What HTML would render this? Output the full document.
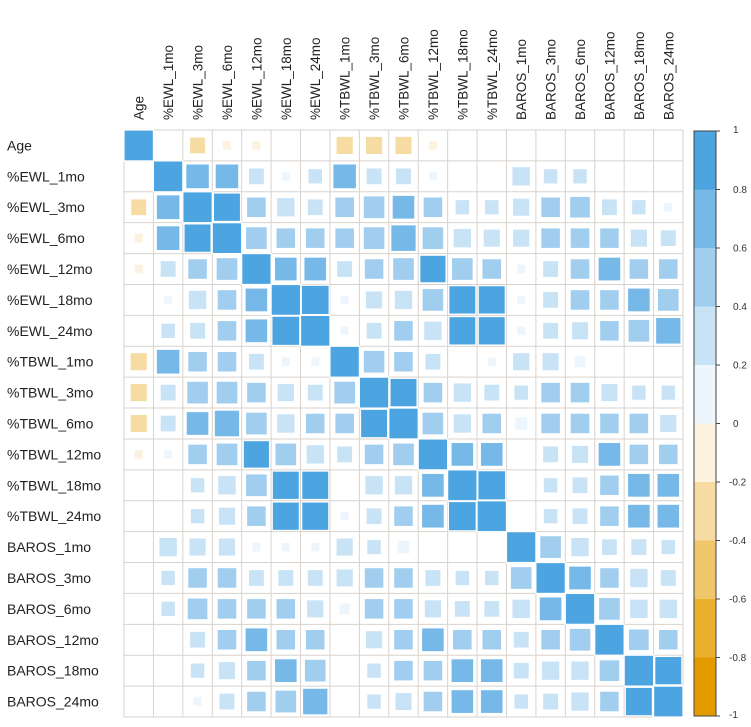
<!DOCTYPE html>
<html><head><meta charset="utf-8"><style>
body{margin:0;background:#fff;}
svg{display:block;font-family:"Liberation Sans",sans-serif;}
</style></head><body>
<svg id="chart" width="751" height="727"></svg>
<script>
const labels=["Age","%EWL_1mo","%EWL_3mo","%EWL_6mo","%EWL_12mo","%EWL_18mo","%EWL_24mo","%TBWL_1mo","%TBWL_3mo","%TBWL_6mo","%TBWL_12mo","%TBWL_18mo","%TBWL_24mo","BAROS_1mo","BAROS_3mo","BAROS_6mo","BAROS_12mo","BAROS_18mo","BAROS_24mo"];
// upper-triangle correlations, row i gives values for columns i+1..18
const upper=[
[0,-0.3,-0.1,-0.1,0,0,-0.35,-0.35,-0.35,-0.1,0,0,0,0,0,0,0,0],
[0.65,0.65,0.3,0.1,0.25,0.65,0.3,0.3,0.1,0,0,0.4,0.25,0.25,0,0,0],
[0.85,0.45,0.4,0.3,0.45,0.55,0.6,0.45,0.25,0.25,0.35,0.45,0.5,0.3,0.25,0.1],
[0.55,0.45,0.45,0.45,0.55,0.75,0.55,0.4,0.35,0.35,0.45,0.45,0.45,0.35,0.3],
[0.6,0.6,0.3,0.45,0.55,0.8,0.55,0.45,0.1,0.3,0.45,0.6,0.45,0.45],
[0.9,0.1,0.35,0.4,0.55,0.85,0.85,0.1,0.3,0.45,0.45,0.6,0.55],
[0.1,0.3,0.45,0.4,0.85,0.85,0.1,0.3,0.35,0.45,0.55,0.75],
[0.55,0.45,0.3,0,0.1,0.35,0.35,0.15,0,0,0],
[0.85,0.45,0.4,0.3,0.25,0.45,0.45,0.35,0.25,0.25],
[0.55,0.4,0.45,0.2,0.45,0.45,0.45,0.45,0.35],
[0.6,0.6,0,0.3,0.35,0.6,0.45,0.45],
[0.9,0,0.25,0.3,0.45,0.6,0.6],
[0,0.25,0.3,0.45,0.6,0.6],
[0.55,0.4,0.3,0.3,0.25],
[0.6,0.45,0.4,0.3],
[0.55,0.4,0.4],
[0.5,0.45],
[0.85],
[]
];
const legendTicks=[1,0.8,0.6,0.4,0.2,0,-0.2,-0.4,-0.6,-0.8,-1];
const binColors=["#E39B00","#EAB02E","#F0C66A","#F6DCA2","#FCF2DF","#EDF6FC","#C9E3F6","#A1CEEF","#76B8E8","#4CA5E1"];

const svg=document.getElementById('chart');
const NS="http://www.w3.org/2000/svg";
const n=labels.length;
const gx0=124,gx1=683,gy0=130,gy1=717;
const cw=(gx1-gx0)/n,ch=(gy1-gy0)/n;
const xOf=j=>gx0+j*cw, yOf=i=>gy0+i*ch;
function colorFor(v){let b=Math.floor((v+1)/0.2);if(b>9)b=9;if(b<0)b=0;return binColors[b];}
function mk(tag,attrs){const e=document.createElementNS(NS,tag);for(const k in attrs)e.setAttribute(k,attrs[k]);svg.appendChild(e);return e;}
function val(i,j){if(i===j)return 1;if(i<j)return upper[i][j-i-1];return upper[j][i-j-1];}

for(let k=0;k<=n;k++){
  const v=mk('line',{x1:xOf(k),y1:gy0,x2:xOf(k),y2:gy1,stroke:"#d9d2cc","stroke-width":1});
  
  
  const h=mk('line',{x1:gx0,y1:yOf(k),x2:gx1,y2:yOf(k),stroke:"#d9d2cc","stroke-width":1});
  
  
}
for(let i=0;i<n;i++){for(let j=0;j<n;j++){
  const v=val(i,j);if(Math.abs(v)<0.02)continue;
  const s=Math.sqrt(Math.abs(v));
  const w=cw*s,h=ch*s;
  const cx=xOf(j)+cw/2,cy=yOf(i)+ch/2;
  const r=mk('rect',{x:cx-w/2,y:cy-h/2,width:w,height:h,fill:colorFor(v),stroke:"#fff","stroke-width":1.2});
  
  
}}
labels.forEach((l,i)=>{
  const t=mk('text',{x:7,y:yOf(i)+ch/2+5,"font-size":14,fill:"#222"});
  t.textContent=l;
  
  
});
labels.forEach((l,j)=>{
  const cx=xOf(j)+cw/2+5;
  const t=mk('text',{x:0,y:0,"font-size":13.5,fill:"#222",transform:`translate(${cx},120) rotate(-90)`});
  t.textContent=l;
  
  
});
const lx0=694,lx1=716,ly0=131,ly1=716;
const lyOf=v=>ly0+(1-v)/2*(ly1-ly0);
binColors.forEach((c,b)=>{
  const vlo=-1+b*0.2,vhi=vlo+0.2;
  const r=mk('rect',{x:lx0,y:lyOf(vhi),width:lx1-lx0,height:lyOf(vlo)-lyOf(vhi),fill:c});
  
  
});
const fr=mk('rect',{x:lx0,y:ly0,width:lx1-lx0,height:ly1-ly0,fill:"none",stroke:"#444","stroke-width":1});


legendTicks.forEach(v=>{
  const y=lyOf(v);
  const tk=mk('line',{x1:lx1,y1:y,x2:lx1+4,y2:y,stroke:"#444"});
  
  
  const t=mk('text',{x:v<0?729:733,y:y+(v===1?2:v===-1?2:3.5),"font-size":10,fill:"#333"});
  t.textContent=String(v);
  
  
});
</script>
</body></html>
